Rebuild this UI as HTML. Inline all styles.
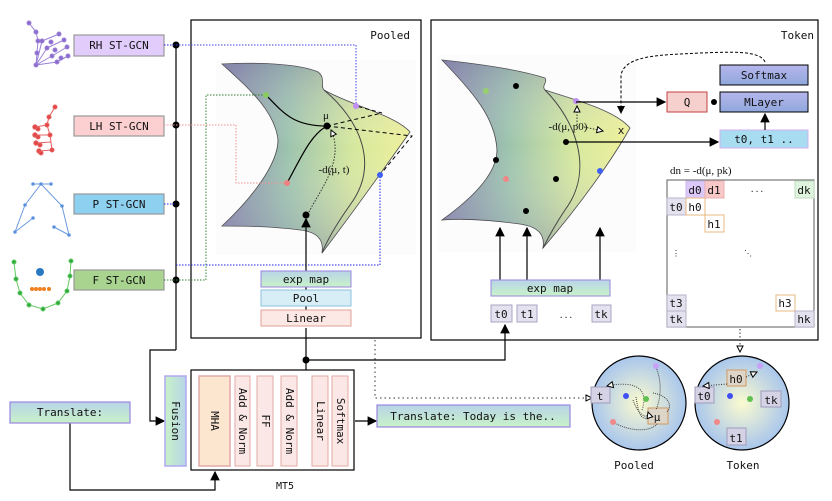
<!DOCTYPE html>
<html><head><meta charset="utf-8"><style>
body{margin:0;background:#fff}
svg{display:block}
text{font-family:"DejaVu Sans Mono","Liberation Mono",monospace;font-size:11px;fill:#111}
.s{font-family:"Liberation Serif",serif;font-size:11px}
</style></head><body>
<svg width="832" height="501" viewBox="0 0 832 501" xmlns="http://www.w3.org/2000/svg">
<defs>
<linearGradient id="mf" x1="0" y1="0" x2="1" y2="0">
<stop offset="0" stop-color="#8886ac"/><stop offset="0.35" stop-color="#9cc3ae"/><stop offset="0.7" stop-color="#d6e89e"/><stop offset="1" stop-color="#eef09a"/></linearGradient>
<linearGradient id="mf2" x1="0" y1="0" x2="0" y2="1">
<stop offset="0" stop-color="#7f7aa8" stop-opacity="0.35"/><stop offset="0.45" stop-color="#fff" stop-opacity="0"/><stop offset="1" stop-color="#7f7aa8" stop-opacity="0.35"/></linearGradient>
<linearGradient id="gb" x1="0" y1="0" x2="0" y2="1"><stop offset="0" stop-color="#b8d4e8"/><stop offset="1" stop-color="#c8f2c8"/></linearGradient>
<linearGradient id="gh" x1="0" y1="0" x2="1" y2="0"><stop offset="0" stop-color="#c8f2c8"/><stop offset="1" stop-color="#b8d4e8"/></linearGradient>
<linearGradient id="pu" x1="0" y1="0" x2="0" y2="1"><stop offset="0" stop-color="#b6b6ec"/><stop offset="1" stop-color="#8fa8dc"/></linearGradient>
<radialGradient id="ball"><stop offset="0" stop-color="#fbfbd0"/><stop offset="1" stop-color="#a9c6ec"/></radialGradient>
<marker id="a" markerWidth="8" markerHeight="8" refX="7" refY="4" orient="auto"><path d="M0,0L8,4L0,8z" fill="#000"/></marker>
<marker id="o" markerWidth="8" markerHeight="8" refX="7" refY="4" orient="auto"><path d="M1,1L7,4L1,7z" fill="#fff" stroke="#000" stroke-width="1"/></marker>
</defs>

<!-- skeletons -->
<g stroke="#9a80d8" fill="#8a6ccc" stroke-width="1">
<polyline points="29,23 36,32 38,41 37,53 36,65" fill="none"/>
<line x1="36" y1="65" x2="42" y2="41"/><line x1="36" y1="65" x2="47" y2="48"/><line x1="36" y1="65" x2="52" y2="56"/><line x1="36" y1="65" x2="57" y2="62"/>
<line x1="42" y1="41" x2="59" y2="34"/><line x1="47" y1="48" x2="64" y2="40"/><line x1="52" y1="56" x2="67" y2="47"/><line x1="57" y1="62" x2="68" y2="56"/>
<circle cx="29" cy="23" r="2"/><circle cx="36" cy="32" r="2"/><circle cx="38" cy="41" r="2"/><circle cx="37" cy="53" r="2"/><circle cx="36" cy="65" r="2"/>
<circle cx="42" cy="41" r="2"/><circle cx="47" cy="48" r="2"/><circle cx="52" cy="56" r="2"/><circle cx="57" cy="62" r="2"/><circle cx="59" cy="34" r="2"/><circle cx="64" cy="40" r="2"/><circle cx="67" cy="47" r="2"/><circle cx="68" cy="56" r="2"/><circle cx="51" cy="42" r="2"/><circle cx="55" cy="50" r="2"/><circle cx="61" cy="58" r="2"/>
</g>
<g stroke="#e86060" fill="#e04848" stroke-width="1">
<polyline points="55,107 49,117 47,125 50,135 52,150" fill="none"/>
<line x1="35" y1="127" x2="47" y2="125"/><line x1="35" y1="135" x2="50" y2="135"/><line x1="36" y1="143" x2="51" y2="142"/><line x1="39" y1="151" x2="52" y2="150"/>
<circle cx="55" cy="107" r="2"/><circle cx="49" cy="117" r="2"/><circle cx="47" cy="125" r="2"/><circle cx="50" cy="135" r="2"/><circle cx="52" cy="150" r="2"/><circle cx="35" cy="127" r="2.2"/><circle cx="38" cy="129" r="2"/><circle cx="35" cy="135" r="2.2"/><circle cx="38" cy="137" r="2"/><circle cx="36" cy="143" r="2.2"/><circle cx="40" cy="145" r="2"/><circle cx="39" cy="151" r="2.2"/><circle cx="41" cy="153" r="2"/>
</g>
<g stroke="#6a9ae0" fill="#4a82d8" stroke-width="1">
<line x1="33" y1="184" x2="51" y2="184"/><polyline points="25,205 41,184 62,206 69,235" fill="none"/><line x1="25" y1="205" x2="15" y2="232"/><line x1="15" y1="232" x2="33" y2="218"/><line x1="54" y1="227" x2="69" y2="235"/>
<circle cx="41" cy="184" r="1.3"/><circle cx="33" cy="184" r="1.3"/><circle cx="51" cy="184" r="1.3"/><circle cx="25" cy="205" r="1.3"/><circle cx="62" cy="206" r="1.3"/><circle cx="15" cy="232" r="1.3"/><circle cx="33" cy="218" r="1.3"/><circle cx="54" cy="227" r="1.3"/><circle cx="69" cy="235" r="1.3"/>
</g>
<g stroke="#60c860" fill="#30a840" stroke-width="1">
<polyline points="14,262 16,279 20,293 29,305 43,309 58,303 67,291 70,276 71,261" fill="none"/>
<circle cx="14" cy="262" r="2"/><circle cx="16" cy="279" r="2"/><circle cx="20" cy="293" r="2"/><circle cx="29" cy="305" r="2"/><circle cx="43" cy="309" r="2"/><circle cx="58" cy="303" r="2"/><circle cx="67" cy="291" r="2"/><circle cx="70" cy="276" r="2"/><circle cx="71" cy="261" r="2"/>
</g>
<circle cx="40" cy="272" r="4" fill="#2a78c0"/>
<g fill="#f08020"><circle cx="32" cy="289" r="2"/><circle cx="36" cy="289" r="2"/><circle cx="40" cy="289" r="2"/><circle cx="44" cy="289" r="2"/><circle cx="49" cy="289" r="2"/></g>

<!-- ST-GCN boxes -->
<g stroke="#999" stroke-width="1.2">
<rect x="74" y="35" width="90" height="21" fill="#e2ccfc"/>
<rect x="74" y="116" width="90" height="20" fill="#fcd0d0"/>
<rect x="74" y="194" width="90" height="20" fill="#8ed0f0"/>
<rect x="74" y="270" width="90" height="20" fill="#a8d490"/>
</g>
<text x="119" y="49" text-anchor="middle">RH ST-GCN</text>
<text x="119" y="130" text-anchor="middle">LH ST-GCN</text>
<text x="119" y="208" text-anchor="middle">P ST-GCN</text>
<text x="119" y="284" text-anchor="middle">F ST-GCN</text>

<!-- bus -->
<line x1="176" y1="45" x2="176" y2="350" stroke="#000" stroke-width="1.2"/>
<polyline points="176,350 150,350 150,421 164,421" fill="none" stroke="#000" stroke-width="1.2" marker-end="url(#a)"/>
<g fill="#000"><circle cx="176" cy="45" r="3.5"/><circle cx="176" cy="125" r="3.5"/><circle cx="176" cy="204" r="3.5"/><circle cx="176" cy="280" r="3.5"/></g>

<!-- Pooled panel -->
<rect x="191" y="20" width="230" height="318" fill="none" stroke="#000" stroke-width="1.2"/>
<text x="410" y="39" text-anchor="end">Pooled</text>
<rect x="216" y="60" width="200" height="195" fill="#fcfcfc"/>
<path d="M222,64 C260,62 300,64 318,72 C326,78 320,86 324,90 C350,105 395,115 410,132 C390,160 355,210 322,253 C324,240 318,232 300,230 C270,226 240,226 222,226 C250,200 278,165 278,140 C275,110 245,85 222,64 Z" fill="url(#mf)" stroke="#444" stroke-width="0.8"/>
<path d="M222,64 C260,62 300,64 318,72 C326,78 320,86 324,90 C350,105 395,115 410,132 C390,160 355,210 322,253 C324,240 318,232 300,230 C270,226 240,226 222,226 C250,200 278,165 278,140 C275,110 245,85 222,64 Z" fill="url(#mf2)"/>
<path d="M324,90 C360,120 380,165 350,205 C338,222 328,238 322,253" fill="none" stroke="#444" stroke-width="1"/>
<polyline points="176,45 356,45 356,106" fill="none" stroke="#4040f0" stroke-dasharray="1.5,1.5"/>
<polyline points="164,125 236,125 236,183 287,183" fill="none" stroke="#f09090" stroke-dasharray="1.5,1.5"/>
<polyline points="164,280 206,280 206,95 266,95" fill="none" stroke="#308030" stroke-dasharray="1.5,1.5"/>
<polyline points="176,265 380,265 380,175" fill="none" stroke="#2020e0" stroke-dasharray="1.5,1.5"/>
<line x1="164" y1="204" x2="176" y2="204" stroke="#2020e0" stroke-dasharray="1.5,1.5"/>
<line x1="164" y1="45" x2="176" y2="45" stroke="#2020e0" stroke-dasharray="1.5,1.5"/>
<path d="M266,95 C285,115 295,126 327,126" fill="none" stroke="#000" stroke-width="1.2"/>
<path d="M287,183 C300,160 310,135 327,126" fill="none" stroke="#000" stroke-width="1.2"/>
<polyline points="327,126 382,113 356,106" fill="none" stroke="#000" stroke-dasharray="4,3"/>
<polyline points="327,126 412,136 380,175" fill="none" stroke="#000" stroke-dasharray="4,3"/>
<path d="M309,212 C320,190 345,160 331,130" fill="none" stroke="#333" stroke-dasharray="1.5,1.5" marker-end="url(#o)"/>
<circle cx="266" cy="95" r="3" fill="#88cc60"/><circle cx="287" cy="183" r="3" fill="#f08080"/><circle cx="356" cy="106" r="3" fill="#c090f0"/><circle cx="380" cy="175" r="3" fill="#4060f0"/>
<circle cx="327" cy="126" r="3.5" fill="#000"/><text x="326" y="119" text-anchor="middle" class="s">μ</text>
<text x="334" y="173" text-anchor="middle" class="s">-d(μ, t)</text>
<circle cx="306" cy="215" r="3.5" fill="#000"/>
<line x1="306" y1="310" x2="306" y2="219" stroke="#000" stroke-width="1.2" marker-end="url(#a)"/>
<rect x="261" y="271" width="90" height="16" fill="url(#gb)" stroke="#9a86e0"/>
<rect x="261" y="290" width="90" height="16" fill="#d8eef6" stroke="#8cc0e0"/>
<rect x="261" y="310" width="90" height="16" fill="#fce8e4" stroke="#e0a098"/>
<text x="306" y="283" text-anchor="middle">exp map</text>
<text x="306" y="302" text-anchor="middle">Pool</text>
<text x="306" y="322" text-anchor="middle">Linear</text>

<!-- Token panel -->
<rect x="431" y="20" width="387" height="320" fill="none" stroke="#000" stroke-width="1.2"/>
<text x="814" y="39" text-anchor="end">Token</text>
<rect x="438" y="55" width="198" height="197" fill="#fcfcfc"/>
<path d="M442,60 C480,64 520,70 545,78 C548,82 541,86 545,90 C575,100 615,110 630,128 C612,160 580,205 543,248 C545,236 540,227 520,224 C490,220 465,218 442,220 C470,200 497,175 497,150 C495,115 470,90 442,60 Z" fill="url(#mf)" stroke="#444" stroke-width="0.8"/>
<path d="M442,60 C480,64 520,70 545,78 C548,82 541,86 545,90 C575,100 615,110 630,128 C612,160 580,205 543,248 C545,236 540,227 520,224 C490,220 465,218 442,220 C470,200 497,175 497,150 C495,115 470,90 442,60 Z" fill="url(#mf2)"/>
<path d="M545,90 C575,120 595,170 565,210 C555,225 548,238 543,248" fill="none" stroke="#444" stroke-width="1"/>
<circle cx="486" cy="91" r="3" fill="#98d070"/><circle cx="576" cy="101" r="3" fill="#c090f0"/><circle cx="506" cy="179" r="3" fill="#f08888"/><circle cx="600" cy="171" r="3" fill="#4060f0"/>
<g fill="#000"><circle cx="516" cy="86" r="3"/><circle cx="566" cy="142" r="3"/><circle cx="496" cy="160" r="3"/><circle cx="556" cy="179" r="3"/><circle cx="526" cy="211" r="3"/><circle cx="714" cy="102" r="3"/></g>
<line x1="576" y1="102" x2="665" y2="102" stroke="#000" stroke-width="1.2" marker-end="url(#a)"/>
<line x1="566" y1="142" x2="718" y2="142" stroke="#000" stroke-width="1.2" marker-end="url(#a)"/>
<path d="M577,125 L577,106" stroke="#333" stroke-dasharray="1.5,1.5" marker-end="url(#o)"/>
<path d="M584,127 L603,131" stroke="#333" stroke-dasharray="1.5,1.5" marker-end="url(#o)"/>
<text x="568" y="130" text-anchor="middle" class="s">-d(μ, p0)</text>
<text x="621" y="134" text-anchor="middle">x</text>
<path d="M765,62 C760,50 730,52 700,53 C660,55 625,55 621,75 L621,113" fill="none" stroke="#000" stroke-dasharray="3,2" marker-end="url(#a)"/>
<rect x="720" y="65" width="88" height="20" fill="url(#pu)" stroke="#000"/>
<rect x="720" y="92" width="88" height="20" fill="url(#pu)" stroke="#000"/>
<rect x="667" y="92" width="40" height="20" fill="#f6d0cc" stroke="#c04040"/>
<rect x="720" y="130" width="88" height="18" fill="#a8dcf0" stroke="#d0b0f0"/>
<text x="764" y="79" text-anchor="middle">Softmax</text>
<text x="764" y="106" text-anchor="middle">MLayer</text>
<text x="687" y="106" text-anchor="middle">Q</text>
<text x="764" y="143" text-anchor="middle">t0, t1 ..</text>
<line x1="765" y1="130" x2="765" y2="114" stroke="#000" stroke-width="1.2" marker-end="url(#a)"/>
<g stroke="#000" stroke-width="1.2">
<line x1="500" y1="280" x2="500" y2="228" marker-end="url(#a)"/>
<line x1="527" y1="280" x2="527" y2="228" marker-end="url(#a)"/>
<line x1="600" y1="280" x2="600" y2="228" marker-end="url(#a)"/>
</g>
<rect x="491" y="280" width="119" height="16" fill="url(#gb)" stroke="#9a86e0"/>
<text x="550" y="292" text-anchor="middle">exp map</text>
<g fill="#e4e2ee" stroke="#a8a4c4">
<rect x="491" y="305" width="21" height="17"/><rect x="517" y="305" width="20" height="17"/><rect x="592" y="305" width="19" height="17"/></g>
<text x="501" y="318" text-anchor="middle">t0</text><text x="527" y="318" text-anchor="middle">t1</text><text x="601" y="318" text-anchor="middle">tk</text>
<text x="566" y="318" text-anchor="middle" style="font-size:8px">...</text>
<!-- matrix -->
<text x="670" y="174" class="s">dn = -d(μ, pk)</text>
<rect x="667" y="180" width="147" height="147" fill="#fff" stroke="#777" stroke-width="1.2"/>
<rect x="686" y="181" width="19" height="17" fill="#dcc8f8" stroke="#c8b8e8"/>
<rect x="705" y="181" width="19" height="17" fill="#f8c8c8" stroke="#e8b0b0"/>
<rect x="795" y="181" width="19" height="17" fill="#def4de" stroke="#c0dcc0"/>
<rect x="667" y="198" width="19" height="17" fill="#e4e2ee" stroke="#b8b4cc"/>
<rect x="686" y="198" width="19" height="17" fill="#fff" stroke="#e8b880"/>
<rect x="705" y="215" width="19" height="17" fill="#fff" stroke="#e8b880"/>
<rect x="667" y="295" width="19" height="16" fill="#e4e2ee" stroke="#b8b4cc"/>
<rect x="776" y="295" width="19" height="16" fill="#fff" stroke="#e8b880"/>
<rect x="667" y="311" width="19" height="16" fill="#e4e2ee" stroke="#b8b4cc"/>
<rect x="795" y="311" width="19" height="16" fill="#e4e2ee" stroke="#b8b4cc"/>
<text x="695" y="194" text-anchor="middle">d0</text><text x="714" y="194" text-anchor="middle">d1</text><text x="804" y="194" text-anchor="middle">dk</text>
<text x="757" y="192" text-anchor="middle" style="font-size:8px">...</text>
<text x="676" y="211" text-anchor="middle">t0</text><text x="695" y="211" text-anchor="middle">h0</text><text x="714" y="228" text-anchor="middle">h1</text>
<text x="676" y="256" text-anchor="middle" style="font-size:8px">⋮</text><text x="748" y="256" text-anchor="middle" style="font-size:8px">⋱</text>
<text x="676" y="307" text-anchor="middle">t3</text><text x="785" y="307" text-anchor="middle">h3</text>
<text x="676" y="323" text-anchor="middle">tk</text><text x="804" y="323" text-anchor="middle">hk</text>
<line x1="740" y1="329" x2="740" y2="352" stroke="#333" stroke-dasharray="1.5,2" marker-end="url(#o)"/>

<!-- bottom connectors -->
<polyline points="306,328 306,421 311,421" fill="none" stroke="#000" stroke-width="1.2" marker-end="url(#a)"/>
<polyline points="306,360 505,360 505,325" fill="none" stroke="#000" stroke-width="1.2" marker-end="url(#a)"/>
<circle cx="306" cy="360" r="3.5" fill="#000"/>
<polyline points="70,423 70,490 215,490 215,472" fill="none" stroke="#000" stroke-width="1.2" marker-end="url(#a)"/>
<polyline points="375,340 375,398 592,398" fill="none" stroke="#333" stroke-dasharray="1.5,3" marker-end="url(#o)"/>
<line x1="355" y1="421" x2="376" y2="421" stroke="#000" stroke-width="1.2" marker-end="url(#a)"/>

<rect x="10" y="402" width="120" height="21" fill="url(#gb)" stroke="#9a86e0" stroke-width="1.2"/>
<text x="70" y="416" text-anchor="middle">Translate:</text>
<rect x="165" y="376" width="21" height="90" fill="url(#gh)" stroke="#b0a8f0" stroke-width="1.5"/>
<text transform="translate(172,421) rotate(90)" text-anchor="middle">Fusion</text>
<rect x="191" y="370" width="163" height="100" fill="#fff" stroke="#000" stroke-width="1.2"/>
<rect x="199" y="376" width="31" height="90" fill="#fde6d0" stroke="#e0a8a8" stroke-width="1.5"/>
<g fill="#fbe8e6" stroke="#e0aaa4" stroke-width="1">
<rect x="235" y="376" width="15" height="90"/><rect x="257" y="376" width="16" height="90"/><rect x="281" y="376" width="16" height="90"/><rect x="312" y="376" width="16" height="90"/><rect x="332" y="376" width="16" height="90"/></g>
<g style="font-size:10px">
<text transform="translate(211,421) rotate(90)" text-anchor="middle">MHA</text>
<text transform="translate(239,421) rotate(90)" text-anchor="middle">Add &amp; Norm</text>
<text transform="translate(262,421) rotate(90)" text-anchor="middle">FF</text>
<text transform="translate(286,421) rotate(90)" text-anchor="middle">Add &amp; Norm</text>
<text transform="translate(317,421) rotate(90)" text-anchor="middle">Linear</text>
<text transform="translate(337,421) rotate(90)" text-anchor="middle">Softmax</text>
</g>
<text x="285" y="489" text-anchor="middle" style="font-size:10px">MT5</text>
<rect x="377" y="405" width="193" height="22" fill="url(#gb)" stroke="#9a86e0" stroke-width="1.2"/>
<text x="473" y="420" text-anchor="middle">Translate: Today is the..</text>

<!-- balls -->
<circle cx="639" cy="403" r="47" fill="url(#ball)" stroke="#000" stroke-width="1.2"/>
<circle cx="742" cy="403" r="47" fill="url(#ball)" stroke="#000" stroke-width="1.2"/>
<g fill="#d4d2e4" stroke="#a09cbc"><rect x="591" y="387" width="19" height="16"/><rect x="648" y="408" width="20" height="16" fill="#ddd6c8" stroke="#d09a60"/></g>
<text x="600" y="400" text-anchor="middle">t</text><text x="657" y="421" text-anchor="middle">μ</text>
<path d="M656,367 C663,385 660,400 656,410" fill="none" stroke="#444" stroke-dasharray="1,1"/>
<path d="M653,393 C672,396 672,410 666,412" fill="none" stroke="#444" stroke-dasharray="1,1"/>
<path d="M636,397 C638,410 640,420 647,418" fill="none" stroke="#444" stroke-dasharray="1,1"/>
<path d="M642,410 C652,380 620,383 607,386" fill="none" stroke="#444" stroke-dasharray="1,1.3" marker-end="url(#o)"/>
<path d="M613,422 C630,432 650,432 657,424" fill="none" stroke="#444" stroke-dasharray="1,1"/>
<path d="M633,400 C640,420 650,418 648,412" fill="none" stroke="#444" stroke-dasharray="1,1" marker-end="url(#o)"/>
<circle cx="656" cy="366" r="3" fill="#c8a0f8"/><circle cx="626" cy="396" r="3" fill="#4050f0"/><circle cx="646" cy="399" r="3" fill="#60c050"/><circle cx="613" cy="422" r="3" fill="#f08888"/>
<g fill="#d4d2e4" stroke="#a09cbc"><rect x="695" y="387" width="19" height="16"/><rect x="761" y="391" width="20" height="16"/><rect x="727" y="428" width="19" height="17"/><rect x="727" y="370" width="19" height="16" fill="#ddd6c8" stroke="#d09a60"/></g>
<text x="704" y="400" text-anchor="middle">t0</text><text x="771" y="404" text-anchor="middle">tk</text><text x="736" y="442" text-anchor="middle">t1</text><text x="736" y="383" text-anchor="middle">h0</text>
<line x1="727" y1="384" x2="703" y2="386" stroke="#333" stroke-dasharray="1,1.5" marker-end="url(#o)"/>
<line x1="746" y1="377" x2="757" y2="372" stroke="#333" stroke-dasharray="1,1.5" marker-end="url(#o)"/>
<circle cx="760" cy="366" r="3" fill="#c8a0f8"/><circle cx="730" cy="396" r="3" fill="#4050f0"/><circle cx="750" cy="399" r="3" fill="#60c050"/><circle cx="717" cy="422" r="3" fill="#f08888"/>
<text x="634" y="469" text-anchor="middle">Pooled</text>
<text x="743" y="469" text-anchor="middle">Token</text>
</svg>
</body></html>
